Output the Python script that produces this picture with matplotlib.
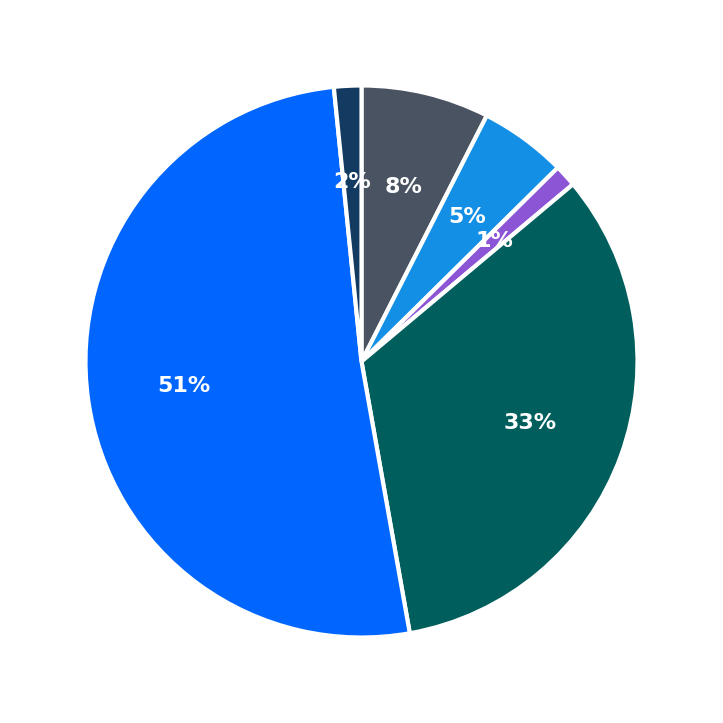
import matplotlib.pyplot as plt

labels = ['A', 'B', 'C', 'D', 'E', 'F']
values = [7.5, 5.1, 1.3, 33.3, 51.2, 1.6]
colors = ['#4a5361', '#148fe6', '#8b55d6', '#005e5c', '#0066ff', '#133a60']

fig = plt.figure(figsize=(7.23, 7.23), dpi=100)
ax = fig.add_axes([0, 0, 1, 1])
wedges, texts, autotexts = ax.pie(
    values, colors=colors, startangle=90, counterclock=False,
    autopct='%.0f%%', pctdistance=0.65,
    wedgeprops=dict(edgecolor='white', linewidth=3),
    textprops=dict(color='white', fontsize=16, fontweight='bold'))
lim = 723 / 2 / 276
ax.set_xlim(-lim, lim)
ax.set_ylim(-lim, lim)
ax.set_aspect('equal')
ax.axis('off')
fig.savefig('out.png', dpi=100)
